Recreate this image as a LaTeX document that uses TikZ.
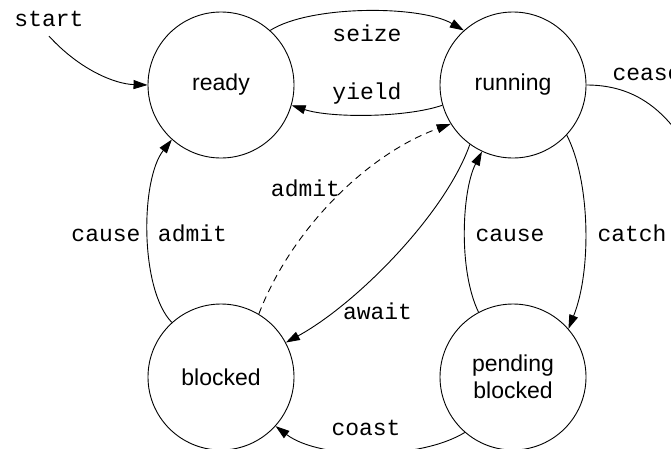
\documentclass[tikz,border=0pt]{standalone}
\usepackage{fontspec}
\setmainfont{Liberation Sans}
\newfontfamily\monof{Liberation Mono}
\usetikzlibrary{arrows.meta}
\begin{document}
\begin{tikzpicture}[x=1pt,y=-1pt,
  state/.style={draw, circle, minimum size=146pt, inner sep=0pt,
    font=\fontsize{23}{27}\selectfont, align=center, line width=0.9pt},
  lbl/.style={font=\monof\fontsize{23}{27}\selectfont, inner sep=0pt, anchor=base},
  edge/.style={line width=0.9pt, -{Triangle[length=14pt,width=9pt]}},
  dashedge/.style={edge, dash pattern=on 7pt off 5pt}
]
\useasboundingbox (0,0) rectangle (671,448);
\clip (0,0) rectangle (671,448);

\node[state] (ready) at (221,85) {ready};
\node[state] (running) at (513,85) {running};
\node[state] (blocked) at (221,377) {blocked};
\node[state] (pending) at (513,377) {pending\\blocked};
\coordinate (ceased) at (700,170);

\node[lbl] (start) at (49,26.7) {start};
\node[lbl] (lseize) at (367,41.7) {seize};
\node[lbl] (lyield) at (367,99) {yield};
\node[lbl] (lcease) at (647,80.7) {cease};
\node[lbl] (lcatch) at (632,241.3) {catch};
\node[lbl] (lcauseb) at (510,241.3) {cause};
\node[lbl] (lawait) at (377.5,319) {await};
\node[lbl] (lcoast) at (366,435.5) {coast};
\node[lbl] (ladmit) at (305.5,196.7) {admit};
\node[lbl] (lcausea) at (106,241.3) {cause};
\node[lbl] (ladmitb) at (192.5,241.3) {admit};

\draw[edge] ([yshift=-9pt]start.south) .. controls (80,70) and (115,84) .. (ready.west);
\draw[edge] (ready.48) .. controls (310,5) and (420,5) .. (running.132);
\draw[edge] (running.196) .. controls (405,118) and (330,118) .. (ready.344);
\draw[edge] (running.east) .. controls (630,85) and (665,105) .. (ceased);
\draw[edge] (running.-43) .. controls (590,180) and (592,270) .. (pending.41);
\draw[edge] (pending.118) .. controls (458,270) and (462,190) .. (running.245);
\draw[edge] (running.234) .. controls (445,215) and (355,305) .. (blocked.28);
\draw[dashedge] (blocked.59) .. controls (290,232) and (365,155) .. (running.212);
\draw[edge] (blocked.132) .. controls (140,290) and (140,180) .. (ready.228);
\draw[edge] (pending.229) .. controls (420,460) and (320,460) .. (blocked.318);
\end{tikzpicture}
\end{document}
